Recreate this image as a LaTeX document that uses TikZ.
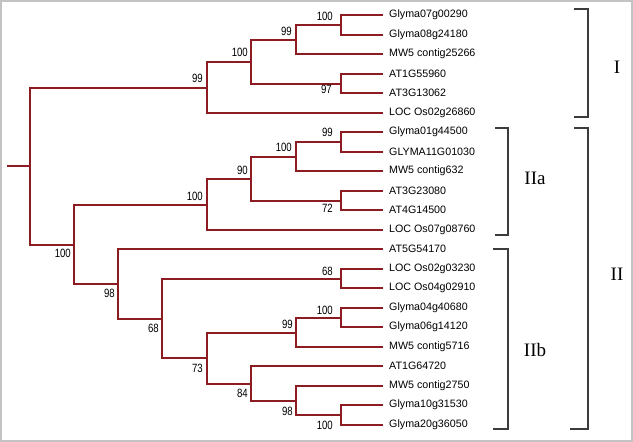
\documentclass[tikz,border=0pt]{standalone}
\usepackage{fontspec}
\setmainfont{Liberation Sans}
\newfontfamily\bootfont[FakeStretch=0.8]{Liberation Sans}
\newfontfamily\cladefont{Liberation Serif}
\definecolor{branchred}{RGB}{140,28,34}
\definecolor{bracketgray}{RGB}{60,60,60}
\definecolor{framegray}{RGB}{195,195,195}
\begin{document}
\begin{tikzpicture}[x=1pt,y=-1pt,
  branch/.style={draw=branchred,line width=2pt},
  leaf/.style={anchor=west,inner xsep=6pt,inner ysep=0pt,font=\fontsize{10.7}{11}\selectfont},
  boot/.style={anchor=east,inner sep=0pt,font=\bootfont\fontsize{12}{12}\selectfont},
  bracket/.style={draw=bracketgray,line width=1.2pt},
  clade/.style={inner sep=0pt,font=\cladefont\fontsize{19}{20}\selectfont}]
\useasboundingbox (0,0) rectangle (633,442);
\draw[framegray,line width=2pt] (1,1) rectangle (632,441);
% leaves
\node[leaf] (t0)  at (383,15)  {Glyma07g00290};
\node[leaf] (t1)  at (383,35)  {Glyma08g24180};
\node[leaf] (t2)  at (383,54)  {MW5 contig25266};
\node[leaf] (t3)  at (383,74)  {AT1G55960};
\node[leaf] (t4)  at (383,93)  {AT3G13062};
\node[leaf] (t5)  at (383,113) {LOC Os02g26860};
\node[leaf] (t6)  at (383,132) {Glyma01g44500};
\node[leaf] (t7)  at (383,152) {GLYMA11G01030};
\node[leaf] (t8)  at (383,171) {MW5 contig632};
\node[leaf] (t9)  at (383,191) {AT3G23080};
\node[leaf] (t10) at (383,210) {AT4G14500};
\node[leaf] (t11) at (383,230) {LOC Os07g08760};
\node[leaf] (t12) at (383,249) {AT5G54170};
\node[leaf] (t13) at (383,269) {LOC Os02g03230};
\node[leaf] (t14) at (383,288) {LOC Os04g02910};
\node[leaf] (t15) at (383,308) {Glyma04g40680};
\node[leaf] (t16) at (383,327) {Glyma06g14120};
\node[leaf] (t17) at (383,347) {MW5 contig5716};
\node[leaf] (t18) at (383,366) {AT1G64720};
\node[leaf] (t19) at (383,386) {MW5 contig2750};
\node[leaf] (t20) at (383,405) {Glyma10g31530};
\node[leaf] (t21) at (383,425) {Glyma20g36050};
% internal nodes
\coordinate (n1)  at (341,25);
\coordinate (n2)  at (296,40);
\coordinate (n3)  at (341,84);
\coordinate (n4)  at (251,62);
\coordinate (n5)  at (207,88);
\coordinate (n6)  at (341,142);
\coordinate (n7)  at (296,157);
\coordinate (n8)  at (341,201);
\coordinate (n9)  at (251,179);
\coordinate (n10) at (207,205);
\coordinate (n11) at (341,279);
\coordinate (n12) at (341,318);
\coordinate (n13) at (296,333);
\coordinate (n14) at (341,415);
\coordinate (n15) at (296,401);
\coordinate (n16) at (251,384);
\coordinate (n17) at (207,358);
\coordinate (n18) at (162,319);
\coordinate (n19) at (118,284);
\coordinate (n20) at (74,245);
\coordinate (root) at (30,166);
\coordinate (stub) at (7,166);
% branches
\draw[branch] (stub) -- (root);
\draw[branch] (root) |- (n5);
\draw[branch] (root) |- (n20);
\draw[branch] (n5) |- (n4);
\draw[branch] (n5) |- (t5.west);
\draw[branch] (n4) |- (n2);
\draw[branch] (n4) |- (n3);
\draw[branch] (n2) |- (n1);
\draw[branch] (n2) |- (t2.west);
\draw[branch] (n1) |- (t0.west);
\draw[branch] (n1) |- (t1.west);
\draw[branch] (n3) |- (t3.west);
\draw[branch] (n3) |- (t4.west);
\draw[branch] (n20) |- (n10);
\draw[branch] (n20) |- (n19);
\draw[branch] (n10) |- (n9);
\draw[branch] (n10) |- (t11.west);
\draw[branch] (n9) |- (n7);
\draw[branch] (n9) |- (n8);
\draw[branch] (n7) |- (n6);
\draw[branch] (n7) |- (t8.west);
\draw[branch] (n6) |- (t6.west);
\draw[branch] (n6) |- (t7.west);
\draw[branch] (n8) |- (t9.west);
\draw[branch] (n8) |- (t10.west);
\draw[branch] (n19) |- (t12.west);
\draw[branch] (n19) |- (n18);
\draw[branch] (n18) |- (n11);
\draw[branch] (n18) |- (n17);
\draw[branch] (n11) |- (t13.west);
\draw[branch] (n11) |- (t14.west);
\draw[branch] (n17) |- (n13);
\draw[branch] (n17) |- (n16);
\draw[branch] (n13) |- (n12);
\draw[branch] (n13) |- (t17.west);
\draw[branch] (n12) |- (t15.west);
\draw[branch] (n12) |- (t16.west);
\draw[branch] (n16) |- (t18.west);
\draw[branch] (n16) |- (n15);
\draw[branch] (n15) |- (t19.west);
\draw[branch] (n15) |- (n14);
\draw[branch] (n14) |- (t20.west);
\draw[branch] (n14) |- (t21.west);
% bootstrap values
\node[boot] (b1)  at (333,16)  {100};
\node[boot] (b2)  at (292,31)  {99};
\node[boot] (b4)  at (248,52)  {100};
\node[boot] (b5)  at (203,78)  {99};
\node[boot] (b3)  at (332,89)  {97};
\node[boot] (b6)  at (333,132) {99};
\node[boot] (b7)  at (292,147) {100};
\node[boot] (b9)  at (248,170) {90};
\node[boot] (b10) at (203,196) {100};
\node[boot] (b8)  at (333,208) {72};
\node[boot] (b20) at (71,253)  {100};
\node[boot] (b11) at (333,271) {68};
\node[boot] (b19) at (115,293) {98};
\node[boot] (b12) at (333,310) {100};
\node[boot] (b13) at (293,324) {99};
\node[boot] (b18) at (159,328) {68};
\node[boot] (b17) at (203,368) {73};
\node[boot] (b16) at (248,393) {84};
\node[boot] (b15) at (293,411) {98};
\node[boot] (b14) at (333,425) {100};
% clade brackets
\draw[bracket] (574,9) -- (588,9) -- (588,117) -- (574,117);
\draw[bracket] (574,128) -- (588,128) -- (588,429) -- (570,429);
\draw[bracket] (495,128) -- (508,128) -- (508,235) -- (495,235);
\draw[bracket] (493,249) -- (508,249) -- (508,429) -- (493,429);
\node[clade] (cI)   at (617,67)  {I};
\node[clade] (cII)  at (617,274) {II};
\node[clade] (cIIa) at (535,178) {IIa};
\node[clade] (cIIb) at (535,350) {IIb};
\end{tikzpicture}
\end{document}
